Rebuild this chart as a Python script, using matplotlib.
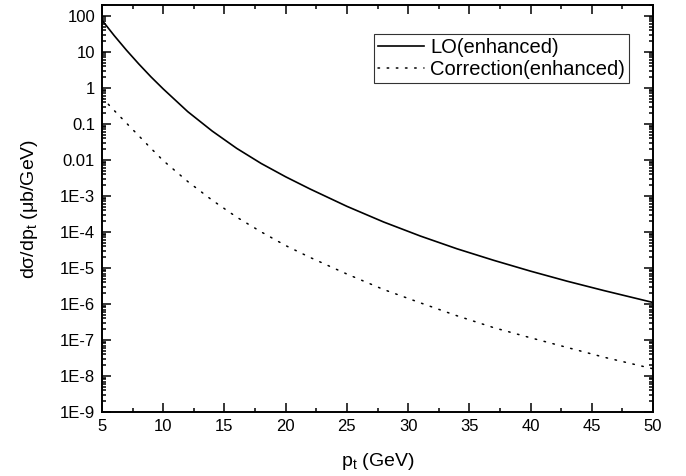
import numpy as np
import matplotlib
matplotlib.use("Agg")
import matplotlib.pyplot as plt
from matplotlib.ticker import FixedLocator, LogLocator, MultipleLocator, NullFormatter

plt.rcParams['font.family'] = ['Liberation Sans', 'DejaVu Sans']
plt.rcParams['mathtext.fontset'] = 'custom'
plt.rcParams['mathtext.rm'] = 'Liberation Sans'
plt.rcParams['mathtext.it'] = 'Liberation Sans:italic'

# valores (log10 de dsigma/dpt)
pt = [5, 6, 7, 8, 9, 10, 12, 14, 16, 18, 20, 22, 25, 28, 31, 34, 37, 40, 43, 46, 50]
lo_log = [1.88, 1.45, 1.045, 0.665, 0.305, -0.03, -0.66, -1.20, -1.68, -2.10, -2.47,
          -2.81, -3.29, -3.725, -4.115, -4.47, -4.79, -5.09, -5.37, -5.63, -5.96]
corr_log = [-0.27, -0.63, -0.98, -1.33, -1.68, -2.02, -2.60, -3.12, -3.59, -4.00, -4.38,
            -4.71, -5.17, -5.60, -5.97, -6.33, -6.66, -6.94, -7.21, -7.48, -7.80]

ytick_vals = [1e-9, 1e-8, 1e-7, 1e-6, 1e-5, 1e-4, 1e-3, 1e-2, 1e-1, 1, 10, 100]
ytick_labels = ['1E-9', '1E-8', '1E-7', '1E-6', '1E-5', '1E-4', '1E-3',
                '0.01', '0.1', '1', '10', '100']
xtick_vals = [5, 10, 15, 20, 25, 30, 35, 40, 45, 50]

lo = 10 ** np.array(lo_log)
corr = 10 ** np.array(corr_log)

fig = plt.figure(figsize=(6.86, 4.76), dpi=100)
ax = fig.add_axes([0.1487, 0.1345, 0.8033, 0.855])

ax.plot(pt, lo, color='black', lw=1.2, label='LO(enhanced)')
ax.plot(pt, corr, color='black', lw=1.1, linestyle=(0, (1, 5)),
        dash_capstyle='round', label='Correction(enhanced)')

ax.set_yscale('log')
ax.set_xlim(5, 50)
ax.set_ylim(1e-9, 200)

ax.yaxis.set_major_locator(FixedLocator(ytick_vals))
ax.set_yticklabels(ytick_labels)
ax.yaxis.set_minor_locator(LogLocator(base=10, subs=np.arange(2, 10), numticks=50))
ax.yaxis.set_minor_formatter(NullFormatter())
ax.set_xticks(xtick_vals)
ax.xaxis.set_minor_locator(MultipleLocator(2.5))

ax.tick_params(which='both', direction='in', top=True, right=True, labelsize=12, width=1.1)
ax.tick_params(which='major', length=6.5, pad=5)
ax.tick_params(which='minor', length=3.2)
for s in ax.spines.values():
    s.set_linewidth(1.4)

ax.set_xlabel('p$_\\mathrm{t}$ (GeV)', fontsize=14, labelpad=12)
ax.set_ylabel('d\u03c3/dp$_\\mathrm{t}$ (\u03bcb/GeV)', fontsize=14, labelpad=14)

leg = ax.legend(loc='upper right', bbox_to_anchor=(0.956, 0.929), fontsize=14.5,
                frameon=True, fancybox=False, handlelength=2.3, handletextpad=0.3,
                borderpad=0.2, labelspacing=0.15, borderaxespad=0)
leg.get_frame().set_edgecolor('black')
leg.get_frame().set_linewidth(0.8)

fig.savefig('out.png', dpi=100)
